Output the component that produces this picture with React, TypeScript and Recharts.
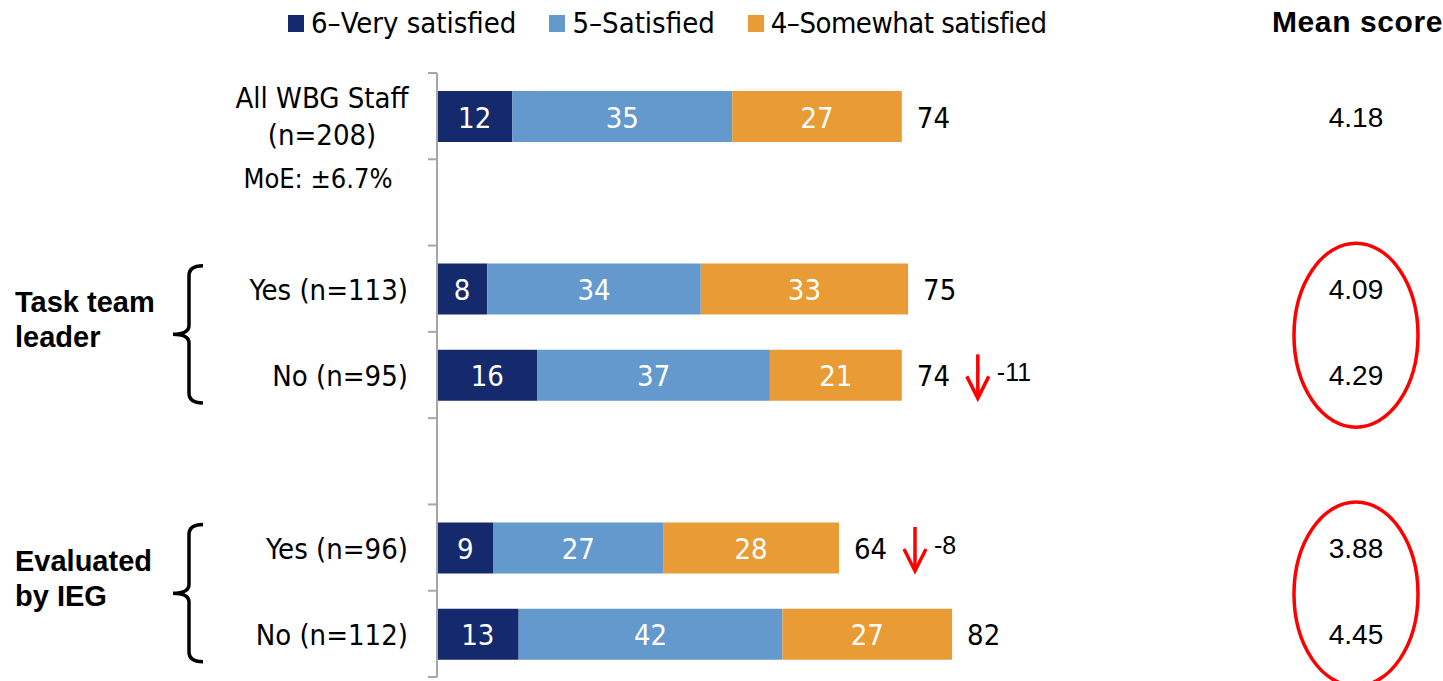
import React from 'react';
import { BarChart, Bar, XAxis, YAxis, LabelList } from 'recharts';

// ---------- data ----------
const categoryIds = ['all', 'gap1', 'ttlYes', 'ttlNo', 'gap2', 'iegYes', 'iegNo'];
const categoryLabels = ['All WBG Staff|(n=208)', '', 'Yes (n=113)', 'No (n=95)', '', 'Yes (n=96)', 'No (n=112)'];
const verySatisfied = [12, null, 8, 16, null, 9, 13];
const satisfied = [35, null, 34, 37, null, 27, 42];
const somewhatSatisfied = [27, null, 33, 21, null, 28, 27];
const totals = [74, null, 75, 74, null, 64, 82];
const changes = [null, null, null, -11, null, -8, null];
const meanScores = ['4.18', '', '4.09', '4.29', '', '3.88', '4.45'];
const groupLabels: (string[] | null)[] = [null, null, ['Task team', 'leader'], null, null, ['Evaluated', 'by IEG'], null];
const circledGroupStarts = [2, 5];
const moeNote = 'MoE: \u00B16.7%';
const seriesNames = ['6\u2013Very satisfied', '5\u2013Satisfied', '4\u2013Somewhat satisfied'];
const seriesKeys = ['v6', 'v5', 'v4'];
const seriesColors = ['#152A6C', '#6499CE', '#E99B35'];
const meanHeader = 'Mean score';

const data = categoryIds.map((id, i) => ({
  id,
  v6: verySatisfied[i],
  v5: satisfied[i],
  v4: somewhatSatisfied[i],
}));

// ---------- layout ----------
const W = 1443;
const H = 681;
const TOP = 73;
const BOTTOM = 4;
const AXIS_X = 437;
const PLOT_H = H - TOP - BOTTOM;
const BAND = PLOT_H / categoryIds.length;
const AXIS_COLOR = '#A6A6A6';
const CAT_FONT = '"DejaVu Sans Condensed", "DejaVu Sans", sans-serif';
const ARIAL = '"Liberation Sans", Arial, sans-serif';
const MEAN_X = 1356;

const CategoryTick = (props: any) => {
  const { y, payload } = props;
  let index = categoryIds.indexOf(payload?.value);
  if (index < 0) index = props.index;
  const label = categoryLabels[index] || '';
  const els: any[] = [];
  els.push(
    <line key="t" x1={AXIS_X - 9} x2={AXIS_X} y1={y - BAND / 2} y2={y - BAND / 2} stroke={AXIS_COLOR} strokeWidth={2} />
  );
  if (index === categoryIds.length - 1) {
    els.push(
      <line key="tb" x1={AXIS_X - 9} x2={AXIS_X} y1={y + BAND / 2} y2={y + BAND / 2} stroke={AXIS_COLOR} strokeWidth={2} />
    );
  }
  if (label.includes('|')) {
    const [l1, l2] = label.split('|');
    els.push(
      <text key="l1" x={322} y={y - 8} textAnchor="middle" fontFamily={CAT_FONT} fontSize={29} fill="#000">{l1}</text>,
      <text key="l2" x={322} y={y + 29} textAnchor="middle" fontFamily={CAT_FONT} fontSize={29} fill="#000">{l2}</text>,
      <text key="l3" x={318} y={y + 72} textAnchor="middle" fontFamily={CAT_FONT} fontSize={27} fill="#000">{moeNote}</text>
    );
  } else if (label) {
    els.push(
      <text key="l" x={AXIS_X - 29} y={y + 11} textAnchor="end" fontFamily={CAT_FONT} fontSize={29} fill="#000">{label}</text>
    );
  }
  const g = groupLabels[index];
  if (g) {
    els.push(
      <text key="g1" x={15} y={y + 23.5} fontFamily={ARIAL} fontWeight="bold" fontSize={29} fill="#000">{g[0]}</text>,
      <text key="g2" x={15} y={y + 58.5} fontFamily={ARIAL} fontWeight="bold" fontSize={29} fill="#000">{g[1]}</text>
    );
    const top = y - 23;
    const bot = y + BAND + 28;
    const mid = (top + bot) / 2;
    const vx = 189;
    const d = `M ${vx + 14} ${top} Q ${vx} ${top} ${vx} ${top + 10} L ${vx} ${mid - 9} Q ${vx} ${mid} ${vx - 16} ${mid} Q ${vx} ${mid} ${vx} ${mid + 9} L ${vx} ${bot - 10} Q ${vx} ${bot} ${vx + 14} ${bot}`;
    els.push(<path key="b" d={d} fill="none" stroke="#000" strokeWidth={3.5} />);
  }
  return <g>{els}</g>;
};

const getBox = (props: any) => {
  const vb = props.viewBox && props.viewBox.width != null ? props.viewBox : props;
  return { x: Number(vb.x), y: Number(vb.y), width: Number(vb.width), height: Number(vb.height) };
};

const rowIndexOf = (cy: number) => Math.floor((cy - TOP) / BAND);

const innerLabel = (props: any) => {
  const { value } = props;
  if (value == null) return null;
  const { x, y, width, height } = getBox(props);
  if (!isFinite(x) || !width) return null;
  return (
    <text x={x + width / 2} y={y + height / 2 + 11} textAnchor="middle" fontFamily={CAT_FONT} fontSize={29} fill="#fff">
      {value}
    </text>
  );
};

const outerLabel = (props: any) => {
  const { x, y, width, height } = getBox(props);
  if (!isFinite(x) || !isFinite(y)) return null;
  const cy = y + height / 2;
  const index = rowIndexOf(cy);
  if (index < 0 || index >= categoryIds.length || totals[index] == null) return null;
  const end = x + width;
  const els: any[] = [];
  els.push(
    <text key="tot" x={end + 15} y={cy + 11} fontFamily={CAT_FONT} fontSize={29} fill="#000">{totals[index]}</text>
  );
  const ch = changes[index];
  if (ch != null) {
    const ax = end + 76;
    els.push(
      <line key="a1" x1={ax} x2={ax} y1={cy - 21} y2={cy + 22} stroke="#FF0000" strokeWidth={3.5} />,
      <polyline key="a2" points={`${ax - 11},${cy + 1} ${ax},${cy + 23} ${ax + 11},${cy + 1}`} fill="none" stroke="#FF0000" strokeWidth={3.5} />,
      <text key="ch" x={end + 95} y={cy + 6} fontFamily={ARIAL} fontSize={25} fill="#000">{ch}</text>
    );
  }
  if (meanScores[index]) {
    els.push(
      <text key="m" x={MEAN_X} y={cy + 10} textAnchor="middle" fontFamily={ARIAL} fontSize={28} fill="#000">{meanScores[index]}</text>
    );
  }
  if (circledGroupStarts.includes(index)) {
    els.push(
      <ellipse key="e" cx={MEAN_X} cy={cy + BAND / 2 + 3} rx={62} ry={92} fill="none" stroke="#FF0000" strokeWidth={3.5} />
    );
  }
  return <g>{els}</g>;
};

const LegendBlock = () => (
  <div
    style={{
      position: 'absolute',
      left: 288,
      top: 6,
      display: 'flex',
      alignItems: 'center',
      gap: 33,
      fontFamily: CAT_FONT,
      fontSize: 29,
      color: '#000',
      whiteSpace: 'nowrap',
    }}
  >
    {seriesNames.map((n, i) => (
      <div key={n} style={{ display: 'flex', alignItems: 'center', gap: 7 }}>
        <div style={{ width: 16, height: 17, background: seriesColors[i] }} />
        <span style={i === 2 ? { letterSpacing: -0.5 } : undefined}>{n}</span>
      </div>
    ))}
  </div>
);

export default function App() {
  return (
    <div style={{ position: 'relative', width: W, height: H, background: '#fff' }}>
      <style>{'body{margin:0;background:#fff}'}</style>
      <BarChart
        width={W}
        height={H}
        data={data}
        layout="vertical"
        margin={{ top: TOP, right: 1, bottom: BOTTOM, left: 0 }}
        barSize={51}
      >
        <XAxis type="number" hide domain={[0, 160]} />
        <YAxis
          type="category"
          dataKey="id"
          width={AXIS_X}
          interval={0}
          tickLine={false}
          axisLine={{ stroke: AXIS_COLOR, strokeWidth: 2 }}
          tick={<CategoryTick />}
        />
        {seriesKeys.map((k, i) => (
          <Bar key={k} dataKey={k} stackId="s" fill={seriesColors[i]} isAnimationActive={false}>
            <LabelList dataKey={k} content={innerLabel} />
            {i === seriesKeys.length - 1 ? <LabelList dataKey={k} content={outerLabel} /> : null}
          </Bar>
        ))}
      </BarChart>
      <LegendBlock />
      <div
        style={{
          position: 'absolute',
          left: 1272,
          top: 5,
          fontFamily: ARIAL,
          fontWeight: 'bold',
          fontSize: 30,
          letterSpacing: 0.6,
          color: '#000',
          whiteSpace: 'nowrap',
        }}
      >
        {meanHeader}
      </div>
    </div>
  );
}
